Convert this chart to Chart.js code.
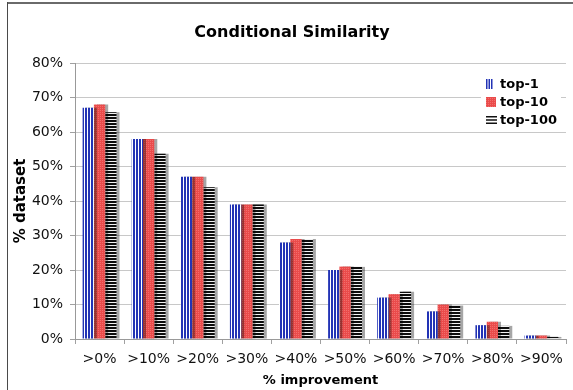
<!DOCTYPE html>
<html>
<head>
<meta charset="utf-8">
<script src="https://cdn.jsdelivr.net/npm/chart.js@4/dist/chart.umd.min.js"></script>
<style>
  html, body { margin: 0; padding: 0; background: #fff; }
  #wrap { width: 573px; height: 390px; position: relative; }
</style>
</head>
<body>
<div id="wrap"><canvas id="chart" width="573" height="390"></canvas></div>
<script>
// Categories and series (percent of dataset)
const categories = ['>0%', '>10%', '>20%', '>30%', '>40%', '>50%', '>60%', '>70%', '>80%', '>90%'];
const top1Values   = [67, 58, 47, 39, 28, 20, 12, 8, 4, 1];
const top10Values  = [68, 58, 47, 39, 29, 21, 13, 10, 5, 1];
const top100Values = [65.7, 53.7, 44, 39, 29, 20.9, 13.7, 9.7, 3.8, 0.6];
const seriesNames  = ['top-1', 'top-10', 'top-100'];
const yTickValues  = [0, 10, 20, 30, 40, 50, 60, 70, 80];
const chartTitle   = 'Conditional Similarity';

const FONT = "'DejaVu Sans', Verdana, sans-serif";

// Fill patterns: blue vertical stripes, red dotted, black horizontal stripes
function makePattern(w, h, paint) {
  const c = document.createElement('canvas');
  c.width = w; c.height = h;
  const g = c.getContext('2d');
  paint(g);
  return g.createPattern(c, 'repeat');
}
const ctxMain = document.getElementById('chart').getContext('2d');
const blueStripes = makePattern(3, 1, g => {
  g.fillStyle = '#ffffff'; g.fillRect(0, 0, 3, 1);
  g.fillStyle = '#2233b5'; g.fillRect(1, 0, 2, 1);
});
const redDots = makePattern(2, 2, g => {
  g.fillStyle = '#ea4b4b'; g.fillRect(0, 0, 2, 2);
  g.fillStyle = '#f26e6c'; g.fillRect(0, 0, 1, 1);
});
const blackStripes = makePattern(1, 3, g => {
  g.fillStyle = '#0d0d0d'; g.fillRect(0, 0, 1, 2);
  g.fillStyle = '#f2f2f2'; g.fillRect(0, 2, 1, 1);
});
const fills = [blueStripes, redDots, blackStripes];

// Outer frame, white background and the chart heading
const framePlugin = {
  id: 'frame',
  beforeDraw(chart) {
    const c = chart.ctx;
    c.save();
    c.fillStyle = '#ffffff';
    c.fillRect(0, 0, chart.width, chart.height);
    c.fillStyle = '#6a6a6a';
    c.fillRect(7, 2, chart.width - 7, 2);
    c.fillStyle = '#4a4a4a';
    c.fillRect(7, 2, 1, chart.height - 2);
    c.font = 'bold 16px ' + FONT;
    c.fillStyle = '#000';
    c.textAlign = 'center';
    c.textBaseline = 'middle';
    c.fillText(chartTitle, 292, 33);
    c.restore();
  }
};

// Soft drop shadow behind the bars
const shadowPlugin = {
  id: 'barShadow',
  beforeDatasetsDraw(chart) {
    const c = chart.ctx;
    c.save();
    c.shadowColor = 'rgba(0,0,0,0.35)';
    c.shadowOffsetX = 3;
    c.shadowOffsetY = 0;
    c.shadowBlur = 1;
  },
  afterDatasetsDraw(chart) {
    chart.ctx.restore();
  }
};

// Legend drawn inside the plot area, top right
const insideLegend = {
  id: 'insideLegend',
  afterDraw(chart) {
    const c = chart.ctx;
    const x0 = chart.chartArea.right - 85;
    const y0 = chart.chartArea.top + 10;
    c.save();
    c.fillStyle = '#ffffff';
    c.fillRect(x0, y0, 80, 55);
    const rows = [y0 + 11, y0 + 29, y0 + 47];
    c.font = 'bold 13px ' + FONT;
    c.textBaseline = 'middle';
    c.textAlign = 'left';
    chart.data.datasets.forEach((ds, i) => {
      const cy = rows[i];
      const bx = x0 + 5;
      if (i === 0) {
        c.fillStyle = '#2233b5';
        for (let k = 0; k < 3; k++) c.fillRect(bx + k * 2.5, cy - 5, 1.5, 10);
      } else if (i === 1) {
        c.fillStyle = fills[1];
        c.fillRect(bx, cy - 5, 10, 10);
      } else {
        c.fillStyle = '#111';
        c.fillRect(bx, cy - 4, 11, 1.5);
        c.fillRect(bx, cy - 0.75, 11, 1.5);
        c.fillRect(bx, cy + 2.5, 11, 1.5);
      }
      c.fillStyle = '#000';
      c.fillText(ds.label, bx + 14, cy + 1);
    });
    c.restore();
  }
};

const seriesValues = [top1Values, top10Values, top100Values];

new Chart(ctxMain, {
  type: 'bar',
  data: {
    labels: categories,
    datasets: seriesNames.map((name, i) => ({
      label: name,
      data: seriesValues[i],
      backgroundColor: fills[i],
      borderWidth: 0,
      categoryPercentage: 0.69,
      barPercentage: 1.0
    }))
  },
  options: {
    responsive: false,
    animation: false,
    events: [],
    layout: { padding: { left: 0, right: 7, top: 63, bottom: 2 } },
    plugins: {
      legend: { display: false },
      tooltip: { enabled: false },
      title: { display: false }
    },
    scales: {
      x: {
        grid: {
          offset: true,
          drawOnChartArea: false,
          drawTicks: true,
          tickLength: 5,
          color: '#a0a0a0'
        },
        border: { color: '#999999', width: 1 },
        ticks: {
          color: '#111',
          font: { family: FONT, size: 14 },
          padding: 7,
          maxRotation: 0,
          autoSkip: false
        },
        title: {
          display: true,
          text: '% improvement',
          color: '#000',
          font: { family: FONT, size: 13, weight: 'bold' },
          padding: { top: 0, bottom: 0 }
        },
        afterFit(scale) { scale.height = 49; }
      },
      y: {
        min: 0,
        max: 80,
        afterBuildTicks(scale) { scale.ticks = yTickValues.map(v => ({ value: v })); },
        grid: {
          color: '#c8c8c8',
          lineWidth: 1,
          drawTicks: true,
          tickLength: 5,
          tickColor: '#a0a0a0'
        },
        border: { color: '#999999', width: 1 },
        ticks: {
          color: '#111',
          font: { family: FONT, size: 14 },
          padding: 7,
          callback: v => v + '%'
        },
        title: {
          display: true,
          text: '% dataset',
          color: '#000',
          font: { family: FONT, size: 15, weight: 'bold' },
          padding: { top: 12, bottom: 0 }
        },
        afterFit(scale) { scale.width = 75; }
      }
    }
  },
  plugins: [framePlugin, shadowPlugin, insideLegend]
});
</script>
</body>
</html>
